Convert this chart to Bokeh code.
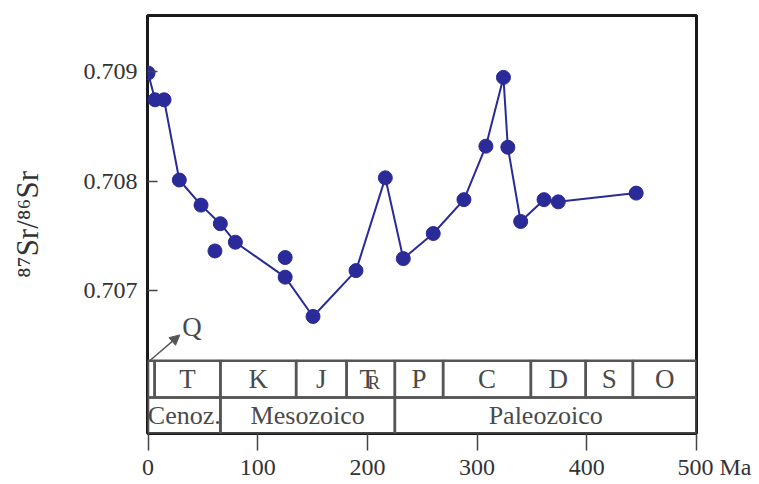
from bokeh.plotting import figure
from bokeh.models import Range1d, FixedTicker, Arrow, NormalHead
from bokeh.embed import file_html
from bokeh.resources import INLINE
from bokeh.core.properties import value

# ---- data (ages in Ma, 87Sr/86Sr) ----
age_line = [0, 6.4, 14.6, 28.5, 48.3, 65.9, 79.6, 125, 150.4, 189.6, 216.3,
            232.7, 260, 288, 308, 324, 328, 339.7, 361, 374, 445]
sr_line = [0.70899, 0.708745, 0.708745, 0.70801, 0.70778, 0.70761, 0.70744,
           0.70712, 0.70676, 0.70718, 0.70803, 0.70729, 0.70752, 0.70783,
           0.70832, 0.70895, 0.70831, 0.70763, 0.70783, 0.70781, 0.70789]
age_extra = [61, 125]
sr_extra = [0.70736, 0.70730]

period_names = ["Q", "T", "K", "J", "Tr", "P", "C", "D", "S", "O"]
period_bounds = [0, 6, 66, 135, 181, 225, 269, 349, 399, 442, 500]
era_names = ["Cenoz.", "Mesozoico", "Paleozoico"]
era_bounds = [0, 66, 225, 500]

x_ticks = [0, 100, 200, 300, 400, 500]
x_tick_labels = ["0", "100", "200", "300", "400", "\u2007\u2007\u2007500 Ma"]
y_ticks = [0.707, 0.708, 0.709]
y_tick_labels = ["0.707", "0.708", "0.709"]

X_MIN, X_MAX = -0.5, 500
Y_MIN, Y_MAX = 0.705688, 0.709517
ROW1_TOP, ROW_MID = 0.706354, 0.706017

FONT = "Liberation Serif"
PT = "#2a2a98"
GRAY = "#4a4a4a"

p = figure(width=757, height=482, x_range=Range1d(X_MIN, X_MAX),
           y_range=Range1d(Y_MIN, Y_MAX), output_backend="svg",
           toolbar_location=None, min_border_left=147, min_border_right=61,
           min_border_top=15, min_border_bottom=47)
p.grid.visible = False
p.outline_line_color = "#1a1a1a"
p.outline_line_width = 3
p.outline_line_alpha = 1.0

# x axis
xa = p.xaxis[0]
xa.ticker = FixedTicker(ticks=x_ticks)
xa.major_label_overrides = {t: s for t, s in zip(x_ticks, x_tick_labels)}
xa.axis_line_color = None
xa.major_tick_out = 17
xa.major_tick_in = 0
xa.minor_tick_line_color = None
xa.major_tick_line_color = "#444444"
xa.major_tick_line_width = 1.5
xa.major_label_standoff = 3
xa.major_label_text_font = FONT
xa.major_label_text_font_size = "24px"
xa.major_label_text_color = "#333333"

# y axis
ya = p.yaxis[0]
ya.ticker = FixedTicker(ticks=y_ticks)
ya.major_label_overrides = {t: s for t, s in zip(y_ticks, y_tick_labels)}
ya.axis_line_color = None
ya.major_tick_in = 10
ya.major_tick_out = 0
ya.minor_tick_line_color = None
ya.major_tick_line_color = "#444444"
ya.major_tick_line_width = 1.5
ya.major_label_standoff = 10
ya.major_label_text_font = FONT
ya.major_label_text_font_size = "24px"
ya.major_label_text_color = "#333333"
ya.axis_label = "\u2078\u2077Sr/\u2078\u2076Sr"
ya.axis_label_text_font = FONT
ya.axis_label_text_font_size = "31px"
ya.axis_label_text_font_style = "normal"
ya.axis_label_text_color = "#333333"
ya.axis_label_standoff = 36

# time-scale boxes
p.quad(left=period_bounds[:-1], right=period_bounds[1:],
       bottom=ROW_MID, top=ROW1_TOP, fill_color=None,
       line_color="#555555", line_width=2.5)
p.quad(left=era_bounds[:-1], right=era_bounds[1:],
       bottom=Y_MIN, top=ROW_MID, fill_color=None,
       line_color="#555555", line_width=2.5)

row1_y = (ROW1_TOP + ROW_MID) / 2
row2_y = (ROW_MID + Y_MIN) / 2
pmids = [(a + b) / 2 for a, b in zip(period_bounds[:-1], period_bounds[1:])]
plain = [(m, n) for m, n in zip(pmids, period_names) if n not in ("Q", "Tr")]
p.text(x=[m for m, _ in plain], y=[row1_y] * len(plain), text=[n for _, n in plain],
       text_align="center", text_baseline="middle", text_font=value(FONT),
       text_font_size="27px", text_color=GRAY)
tr_mid = pmids[period_names.index("Tr")]
p.text(x=[tr_mid], y=[row1_y], text=["T"], x_offset=-3, text_align="center",
       text_baseline="middle", text_font=value(FONT), text_font_size="27px",
       text_color=GRAY)
p.text(x=[tr_mid], y=[row1_y], text=["R"], x_offset=3, y_offset=3, text_align="center",
       text_baseline="middle", text_font=value(FONT), text_font_size="19px",
       text_color=GRAY)

emids = [(a + b) / 2 for a, b in zip(era_bounds[:-1], era_bounds[1:])]
p.text(x=emids, y=[row2_y] * len(emids), text=era_names,
       text_align="center", text_baseline="middle", text_font=value(FONT),
       text_font_size="26px", text_color=GRAY)

# Q label + arrow
p.add_layout(Arrow(end=NormalHead(size=10, fill_color="#555555", line_color="#555555"),
                   x_start=1.5, y_start=ROW1_TOP, x_end=29, y_end=0.706591,
                   line_color="#555555", line_width=1.5))
p.text(x=[40], y=[0.706664], text=["Q"], text_align="center", text_baseline="middle",
       text_font=value(FONT), text_font_size="27px", text_color=GRAY)

# data
p.line(age_line, sr_line, line_color=PT, line_width=2)
p.scatter(age_line, sr_line, size=14, fill_color=PT, line_color=PT)
p.scatter(age_extra, sr_extra, size=14, fill_color=PT, line_color=PT)

open("out.html", "w").write(file_html(p, INLINE))
